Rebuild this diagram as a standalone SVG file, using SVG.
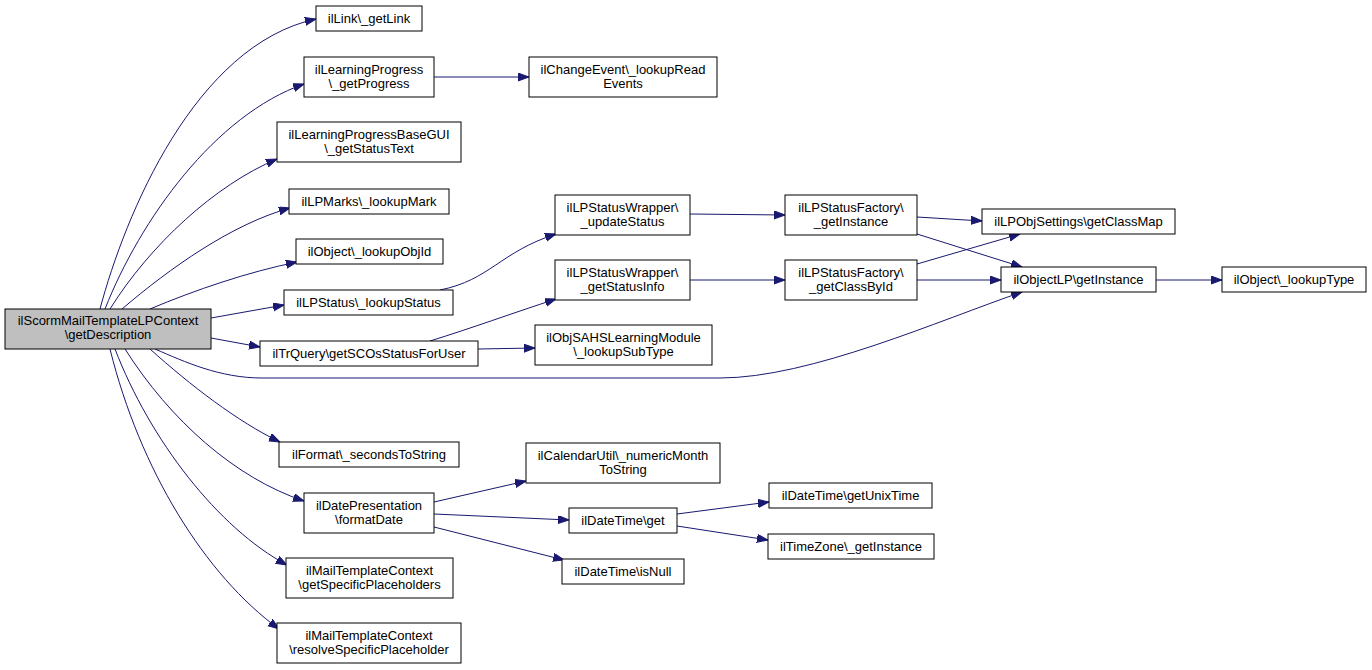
<svg xmlns="http://www.w3.org/2000/svg" width="1372" height="670" viewBox="0 0 1372 670">
<style>
.n rect{fill:#fff;stroke:#000;stroke-width:1}
.root rect{fill:#bfbfbf}
text{font-family:"Liberation Sans",Arial,Helvetica,sans-serif;font-size:13px;text-anchor:middle;fill:#000}
.e path{fill:none;stroke:#191970;stroke-width:1;marker-end:url(#ah)}
</style>
<defs>
<marker id="ah" markerUnits="userSpaceOnUse" markerWidth="13" markerHeight="10" refX="11" refY="4" orient="auto">
<path d="M0,0 L11,4 L0,8 z" fill="#191970" stroke="#191970"/>
</marker>
</defs>
<rect width="1372" height="670" fill="#fff"/>
<g id="edges" class="e">
<path d="M100,309 C125,215 195,45 316,19"/>
<path d="M105,309 C140,220 215,115 304,84"/>
<path d="M110,309 C150,245 215,185 277,159"/>
<path d="M122,309 C170,268 232,224 290,208"/>
<path d="M150,309 C195,290 248,272 297,262"/>
<path d="M211,318 L284,305"/>
<path d="M211,338 L260,347"/>
<path d="M155,349 C185,362 220,378 262,378 L720,378 C810,378 940,320 1022,292"/>
<path d="M150,349 C190,385 238,422 280,442"/>
<path d="M125,349 C170,420 235,478 304,501"/>
<path d="M115,349 C150,440 218,528 287,565"/>
<path d="M110,349 C140,470 205,575 279,629"/>
<path d="M434,77 L529,77"/>
<path d="M440,290 C490,280 500,252 556,234"/>
<path d="M430,341 C472,328 510,314 556,299"/>
<path d="M478,349 L535,348"/>
<path d="M690,214 L785,215"/>
<path d="M690,280 L785,280"/>
<path d="M917,217 L982,221"/>
<path d="M917,234 L1022,267"/>
<path d="M917,264 L1020,234"/>
<path d="M917,280 L1001,280"/>
<path d="M1156,280 L1222,280"/>
<path d="M434,502 L526,481"/>
<path d="M434,514 L569,520"/>
<path d="M434,527 L564,560"/>
<path d="M677,514 L769,502"/>
<path d="M677,526 L768,540"/>
</g>
<g id="root" class="n root"><rect x="5" y="309" width="206" height="40"/><text x="108" y="325">ilScormMailTemplateLPContext</text><text x="108" y="339">\getDescription</text></g>
<g id="n_link" class="n"><rect x="316" y="6" width="106" height="25"/><text x="369" y="23">ilLink\_getLink</text></g>
<g id="n_lp" class="n"><rect x="304" y="57" width="130" height="40"/><text x="369" y="74">ilLearningProgress</text><text x="369" y="88">\_getProgress</text></g>
<g id="n_lpgui" class="n"><rect x="277" y="122" width="184" height="40"/><text x="369" y="139">ilLearningProgressBaseGUI</text><text x="369" y="153">\_getStatusText</text></g>
<g id="n_ce" class="n"><rect x="529" y="57" width="188" height="40"/><text x="623" y="74">ilChangeEvent\_lookupRead</text><text x="623" y="88">Events</text></g>
<g id="n_marks" class="n"><rect x="289" y="189" width="160" height="25"/><text x="369" y="206">ilLPMarks\_lookupMark</text></g>
<g id="n_objid" class="n"><rect x="296" y="239" width="147" height="25"/><text x="369.5" y="256">ilObject\_lookupObjId</text></g>
<g id="n_status" class="n"><rect x="284" y="290" width="169" height="25"/><text x="368.5" y="307">ilLPStatus\_lookupStatus</text></g>
<g id="n_trq" class="n"><rect x="260" y="341" width="218" height="25"/><text x="369" y="358">ilTrQuery\getSCOsStatusForUser</text></g>
<g id="n_wrapU" class="n"><rect x="555" y="195" width="135" height="40"/><text x="622.5" y="212">ilLPStatusWrapper\</text><text x="622.5" y="226">_updateStatus</text></g>
<g id="n_wrapG" class="n"><rect x="555" y="260" width="135" height="40"/><text x="622.5" y="277">ilLPStatusWrapper\</text><text x="622.5" y="291">_getStatusInfo</text></g>
<g id="n_sahs" class="n"><rect x="535" y="325" width="177" height="40"/><text x="623.5" y="342">ilObjSAHSLearningModule</text><text x="623.5" y="356">\_lookupSubType</text></g>
<g id="n_facI" class="n"><rect x="785" y="195" width="132" height="40"/><text x="851" y="212">ilLPStatusFactory\</text><text x="851" y="226">_getInstance</text></g>
<g id="n_facC" class="n"><rect x="785" y="260" width="132" height="40"/><text x="851" y="277">ilLPStatusFactory\</text><text x="851" y="291">_getClassById</text></g>
<g id="n_classmap" class="n"><rect x="982" y="209" width="193" height="25"/><text x="1078.5" y="226">ilLPObjSettings\getClassMap</text></g>
<g id="n_objlp" class="n"><rect x="1001" y="267" width="155" height="25"/><text x="1078.5" y="284">ilObjectLP\getInstance</text></g>
<g id="n_type" class="n"><rect x="1222" y="267" width="144" height="25"/><text x="1294" y="284">ilObject\_lookupType</text></g>
<g id="n_format" class="n"><rect x="279" y="442" width="180" height="25"/><text x="369" y="459">ilFormat\_secondsToString</text></g>
<g id="n_datepres" class="n"><rect x="304" y="493" width="130" height="40"/><text x="369" y="510">ilDatePresentation</text><text x="369" y="524">\formatDate</text></g>
<g id="n_mtcG" class="n"><rect x="286" y="558" width="167" height="40"/><text x="369.5" y="575">ilMailTemplateContext</text><text x="369.5" y="589">\getSpecificPlaceholders</text></g>
<g id="n_mtcR" class="n"><rect x="277" y="623" width="184" height="40"/><text x="369" y="640">ilMailTemplateContext</text><text x="369" y="654">\resolveSpecificPlaceholder</text></g>
<g id="n_cal" class="n"><rect x="526" y="443" width="194" height="40"/><text x="623" y="460">ilCalendarUtil\_numericMonth</text><text x="623" y="474">ToString</text></g>
<g id="n_dtget" class="n"><rect x="569" y="508" width="108" height="25"/><text x="623" y="525">ilDateTime\get</text></g>
<g id="n_dtnull" class="n"><rect x="562" y="559" width="122" height="25"/><text x="623" y="576">ilDateTime\isNull</text></g>
<g id="n_unix" class="n"><rect x="769" y="483" width="163" height="25"/><text x="850.5" y="500">ilDateTime\getUnixTime</text></g>
<g id="n_tz" class="n"><rect x="768" y="534" width="166" height="25"/><text x="851" y="551">ilTimeZone\_getInstance</text></g>
</svg>
